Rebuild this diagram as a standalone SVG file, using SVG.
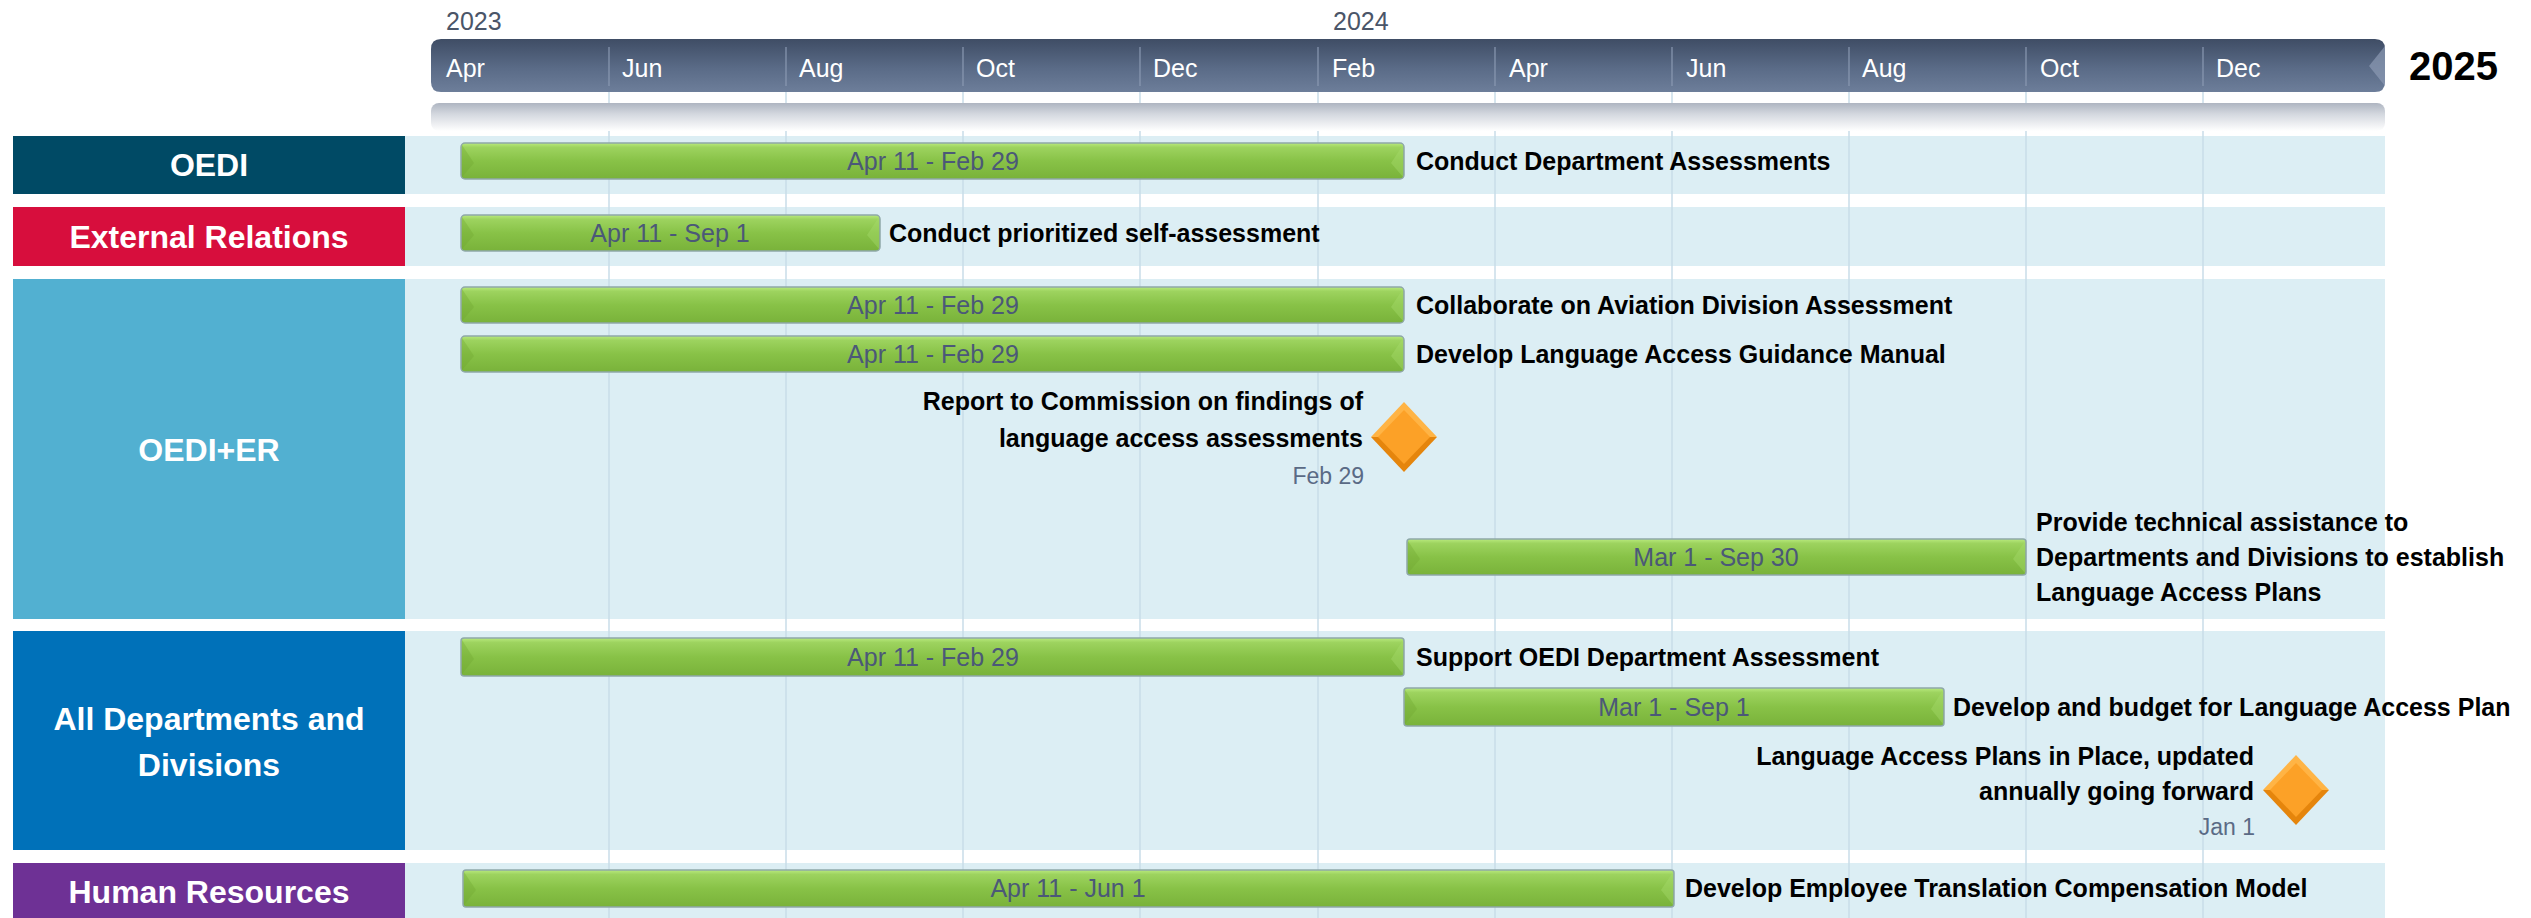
<svg xmlns="http://www.w3.org/2000/svg" width="2531" height="918" viewBox="0 0 2531 918">
<defs>
<linearGradient id="gBar" x1="0" y1="0" x2="0" y2="1">
<stop offset="0" stop-color="#3F4D65"/><stop offset="0.55" stop-color="#5A6B87"/><stop offset="1" stop-color="#6D7E9A"/>
</linearGradient>
<linearGradient id="gShade" x1="0" y1="0" x2="0" y2="1">
<stop offset="0" stop-color="#AEB5C1"/><stop offset="0.4" stop-color="#D4D8DF"/><stop offset="1" stop-color="#FFFFFF"/>
</linearGradient>
<linearGradient id="gGreen" x1="0" y1="0" x2="0" y2="1">
<stop offset="0" stop-color="#B9EA7E"/><stop offset="0.12" stop-color="#9DD35F"/><stop offset="0.5" stop-color="#88C247"/><stop offset="1" stop-color="#79B23A"/>
</linearGradient>
<style>
.grid{stroke:#C9DDE8;stroke-width:1.5}
.tick{stroke:#8A99B2;stroke-width:1.2}
.band{fill:#DCEEF4}
.mon{font-family:"Liberation Sans",Arial,sans-serif;font-size:25px;fill:#FFFFFF}
.yr{font-family:"Liberation Sans",Arial,sans-serif;font-size:25px;fill:#4A5568}
.lbl{font-family:"Liberation Sans",Arial,sans-serif;font-size:32px;font-weight:bold;fill:#FFFFFF;text-anchor:middle}
.bar{fill:url(#gGreen);stroke:#8FA8A8;stroke-width:1.5}
.bev{fill:#6FA532;opacity:0.35}
.bevr{fill:#A8DB6E;opacity:0.4}
.bt{font-family:"Liberation Sans",Arial,sans-serif;font-size:25px;fill:#4B5878;text-anchor:middle}
.task{font-family:"Liberation Sans",Arial,sans-serif;font-size:25px;font-weight:bold;fill:#000000}
.taskr{font-family:"Liberation Sans",Arial,sans-serif;font-size:25px;font-weight:bold;fill:#000000;text-anchor:end}
.date{font-family:"Liberation Sans",Arial,sans-serif;font-size:23px;fill:#5A6A85;text-anchor:end}
.dtop{fill:#FFB445}
.dbot{fill:#E5850C}
.dmid{fill:#FCA127}
</style>
</defs>
<rect width="2531" height="918" fill="#FFFFFF"/>

<g id="bands">
<rect class="band" x="405" y="136" width="1980" height="58"/>
<rect class="band" x="405" y="207" width="1980" height="59"/>
<rect class="band" x="405" y="279" width="1980" height="340"/>
<rect class="band" x="405" y="631" width="1980" height="219"/>
<rect class="band" x="405" y="863" width="1980" height="55"/>
</g>

<g id="gridlines">
<line class="grid" x1="609" y1="92" x2="609" y2="918"/>
<line class="grid" x1="786" y1="92" x2="786" y2="918"/>
<line class="grid" x1="963" y1="92" x2="963" y2="918"/>
<line class="grid" x1="1140" y1="92" x2="1140" y2="918"/>
<line class="grid" x1="1318" y1="92" x2="1318" y2="918"/>
<line class="grid" x1="1495" y1="92" x2="1495" y2="918"/>
<line class="grid" x1="1672" y1="92" x2="1672" y2="918"/>
<line class="grid" x1="1849" y1="92" x2="1849" y2="918"/>
<line class="grid" x1="2026" y1="92" x2="2026" y2="918"/>
<line class="grid" x1="2203" y1="92" x2="2203" y2="918"/>
</g>

<g id="timeline">
<rect x="431" y="103" width="1954" height="28" rx="8" fill="url(#gShade)"/>
<path d="M441,39 H2375 Q2385,39 2385,49 V82 Q2385,92 2375,92 H441 Q431,92 431,82 V49 Q431,39 441,39 Z" fill="url(#gBar)"/>
<path d="M2385,46 L2369,66 L2385,86 Z" fill="#8B9AB3" opacity="0.7"/>
<line class="tick" x1="609" y1="47" x2="609" y2="86"/>
<line class="tick" x1="786" y1="47" x2="786" y2="86"/>
<line class="tick" x1="963" y1="47" x2="963" y2="86"/>
<line class="tick" x1="1140" y1="47" x2="1140" y2="86"/>
<line class="tick" x1="1318" y1="47" x2="1318" y2="86"/>
<line class="tick" x1="1495" y1="47" x2="1495" y2="86"/>
<line class="tick" x1="1672" y1="47" x2="1672" y2="86"/>
<line class="tick" x1="1849" y1="47" x2="1849" y2="86"/>
<line class="tick" x1="2026" y1="47" x2="2026" y2="86"/>
<line class="tick" x1="2203" y1="47" x2="2203" y2="86"/>
<text class="yr" x="446" y="30">2023</text>
<text class="yr" x="1333" y="30">2024</text>
<text class="mon" x="446" y="77">Apr</text>
<text class="mon" x="622" y="77">Jun</text>
<text class="mon" x="799" y="77">Aug</text>
<text class="mon" x="976" y="77">Oct</text>
<text class="mon" x="1153" y="77">Dec</text>
<text class="mon" x="1332" y="77">Feb</text>
<text class="mon" x="1509" y="77">Apr</text>
<text class="mon" x="1686" y="77">Jun</text>
<text class="mon" x="1862" y="77">Aug</text>
<text class="mon" x="2040" y="77">Oct</text>
<text class="mon" x="2216" y="77">Dec</text>
<text x="2409" y="80" font-family="'Liberation Sans',Arial,sans-serif" font-size="40" font-weight="bold" fill="#000000">2025</text>
</g>

<g id="lane-oedi">
<rect x="13" y="136" width="392" height="58" fill="#004A65"/>
<text class="lbl" x="209" y="176">OEDI</text>
</g>
<g id="lane-er">
<rect x="13" y="207" width="392" height="59" fill="#D70E3D"/>
<text class="lbl" x="209" y="248">External Relations</text>
</g>
<g id="lane-oedi-er">
<rect x="13" y="279" width="392" height="340" fill="#52B0D1"/>
<text class="lbl" x="209" y="461">OEDI+ER</text>
</g>
<g id="lane-all">
<rect x="13" y="631" width="392" height="219" fill="#0071B9"/>
<text class="lbl" x="209" y="730">All Departments and</text>
<text class="lbl" x="209" y="776">Divisions</text>
</g>
<g id="lane-hr">
<rect x="13" y="863" width="392" height="55" fill="#6E3195"/>
<text class="lbl" x="209" y="903">Human Resources</text>
</g>

<g id="task-1">
<rect class="bar" x="461" y="143" width="943" height="36" rx="4"/>
<path class="bev" d="M462,145 L474,163 L462,177 Z"/>
<path class="bevr" d="M1403,145 L1391,163 L1403,177 Z"/>
<text class="bt" x="933" y="170">Apr 11 - Feb 29</text>
<text class="task" x="1416" y="170">Conduct Department Assessments</text>
</g>
<g id="task-2">
<rect class="bar" x="461" y="215" width="419" height="36" rx="4"/>
<path class="bev" d="M462,217 L474,235 L462,249 Z"/>
<path class="bevr" d="M879,217 L867,235 L879,249 Z"/>
<text class="bt" x="670" y="242">Apr 11 - Sep 1</text>
<text class="task" x="889" y="242">Conduct prioritized self-assessment</text>
</g>
<g id="task-3">
<rect class="bar" x="461" y="287" width="943" height="36" rx="4"/>
<path class="bev" d="M462,289 L474,307 L462,321 Z"/>
<path class="bevr" d="M1403,289 L1391,307 L1403,321 Z"/>
<text class="bt" x="933" y="314">Apr 11 - Feb 29</text>
<text class="task" x="1416" y="314">Collaborate on Aviation Division Assessment</text>
</g>
<g id="task-4">
<rect class="bar" x="461" y="336" width="943" height="36" rx="4"/>
<path class="bev" d="M462,338 L474,356 L462,370 Z"/>
<path class="bevr" d="M1403,338 L1391,356 L1403,370 Z"/>
<text class="bt" x="933" y="363">Apr 11 - Feb 29</text>
<text class="task" x="1416" y="363">Develop Language Access Guidance Manual</text>
</g>
<g id="milestone-1">
<polygon class="dtop" points="1404,402 1371,437 1437,437"/>
<polygon class="dbot" points="1371,437 1404,472 1437,437"/>
<polygon class="dmid" points="1404,410 1378,437 1404,464 1430,437"/>
<text class="taskr" x="1363" y="410">Report to Commission on findings of</text>
<text class="taskr" x="1363" y="447">language access assessments</text>
<text class="date" x="1364" y="484">Feb 29</text>
</g>
<g id="task-5">
<rect class="bar" x="1407" y="539" width="619" height="36" rx="3"/>
<path class="bev" d="M1408,541 L1420,559 L1408,573 Z"/>
<path class="bevr" d="M2025,541 L2013,559 L2025,573 Z"/>
<text class="bt" x="1716" y="566">Mar 1 - Sep 30</text>
<text class="task" x="2036" y="531">Provide technical assistance to</text>
<text class="task" x="2036" y="566">Departments and Divisions to establish</text>
<text class="task" x="2036" y="601">Language Access Plans</text>
</g>
<g id="task-6">
<rect class="bar" x="461" y="638" width="943" height="38" rx="3"/>
<path class="bev" d="M462,640 L474,659 L462,674 Z"/>
<path class="bevr" d="M1403,640 L1391,659 L1403,674 Z"/>
<text class="bt" x="933" y="666">Apr 11 - Feb 29</text>
<text class="task" x="1416" y="666">Support OEDI Department Assessment</text>
</g>
<g id="task-7">
<rect class="bar" x="1404" y="688" width="540" height="38" rx="3"/>
<path class="bev" d="M1405,690 L1417,709 L1405,724 Z"/>
<path class="bevr" d="M1943,690 L1931,709 L1943,724 Z"/>
<text class="bt" x="1674" y="716">Mar 1 - Sep 1</text>
<text class="task" x="1953" y="716">Develop and budget for Language Access Plan</text>
</g>
<g id="milestone-2">
<polygon class="dtop" points="2296,755 2263,790 2329,790"/>
<polygon class="dbot" points="2263,790 2296,825 2329,790"/>
<polygon class="dmid" points="2296,763 2270,790 2296,817 2322,790"/>
<text class="taskr" x="2254" y="765">Language Access Plans in Place, updated</text>
<text class="taskr" x="2254" y="800">annually going forward</text>
<text class="date" x="2255" y="835">Jan 1</text>
</g>
<g id="task-8">
<rect class="bar" x="463" y="870" width="1211" height="37" rx="3"/>
<path class="bev" d="M464,872 L476,890 L464,905 Z"/>
<path class="bevr" d="M1673,872 L1661,890 L1673,905 Z"/>
<text class="bt" x="1068" y="897">Apr 11 - Jun 1</text>
<text class="task" x="1685" y="897">Develop Employee Translation Compensation Model</text>
</g>
<g id="connectors"/>
</svg>
